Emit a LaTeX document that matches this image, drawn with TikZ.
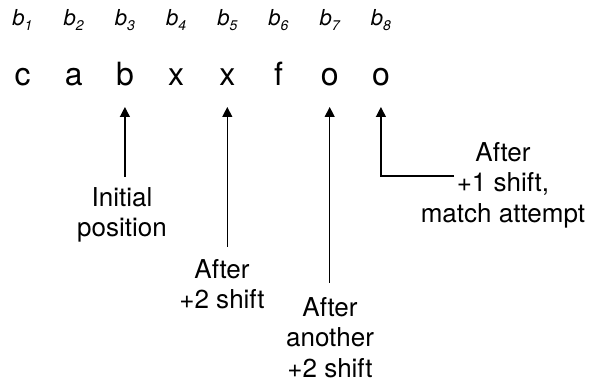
\documentclass[tikz,border=0pt]{standalone}
\usepackage{fontspec}
\setmainfont{TeX Gyre Heros}
\usetikzlibrary{arrows.meta}

% one picture unit = 1pt, y grows downwards
\tikzset{
  letter/.style={inner sep=0pt, anchor=base, font=\fontsize{32}{38}\selectfont},
  idx/.style={inner sep=0pt, anchor=base, font=\fontsize{22}{26}\selectfont\itshape},
  note/.style={inner sep=0pt, anchor=north, align=center, font=\fontsize{26}{30.5}\selectfont},
  arr/.style={line width=1.2pt, -{Triangle[width=10pt,length=10pt]}},
}
\newcommand{\bsub}[1]{b\raisebox{-5pt}{\fontsize{14}{14}\selectfont #1}}

\begin{document}
\begin{tikzpicture}[x=1pt,y=-1pt]
  \useasboundingbox (0,0) rectangle (590,385);

  % the text b_1 ... b_8 with its index labels
  \foreach \i/\ch in {1/c,2/a,3/b,4/x,5/x,6/f,7/o,8/o} {
    \pgfmathsetmacro{\px}{22.5+51.2*(\i-1)}
    \node[idx]    (B\i) at (\px,26) {\bsub{\i}};
    \node[letter] (L\i) at (\px,86) {\ch};
  }

  % captions under the pointers
  \node[note] (lbl3) at (122,187) {Initial\\position};
  \node[note] (lbl5) at (222,259) {After\\+2 shift};
  \node[note] (lbl7) at (330,297) {After\\another\\+2 shift};
  \node[note] (lbl8) at (503,142) {After\\+1 shift,\\match attempt};
  \coordinate (k8) at (454,176);

  % pointers
  \tikzset{tipgap/.style={shorten >=21pt}}
  \draw[arr, tipgap, shorten <=10pt] (L3 |- lbl3.north) -- (L3.base);
  \draw[arr, tipgap, shorten <=12pt] (L5 |- lbl5.north) -- (L5.base);
  \draw[arr, tipgap, shorten <=14pt] (L7 |- lbl7.north) -- (L7.base);
  \draw[arr, tipgap] (k8) -| (L8.base);
\end{tikzpicture}
\end{document}
